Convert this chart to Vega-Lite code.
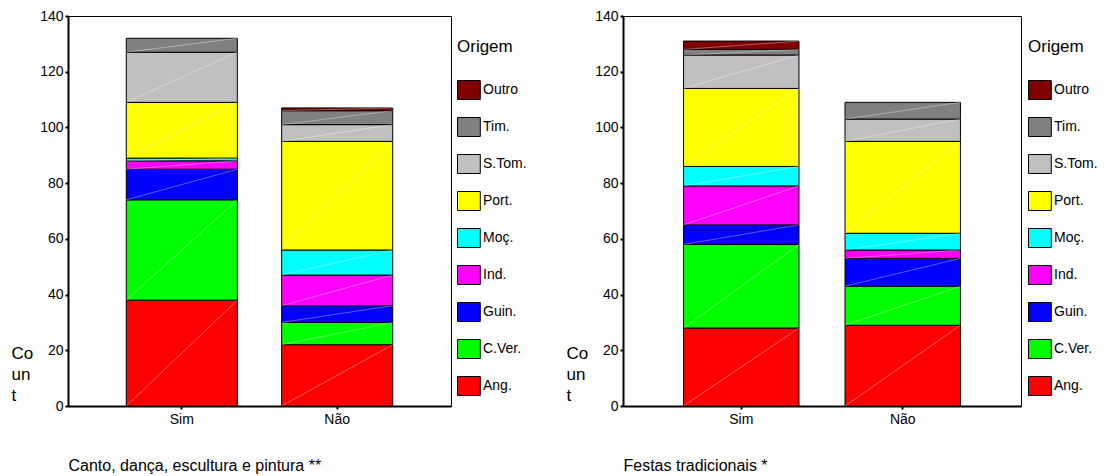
{
  "$schema": "https://vega.github.io/schema/vega-lite/v6.json",
  "padding": {"left": 10, "top": 8, "right": 0, "bottom": 0},
  "autosize": {"type": "pad"},
  "background": "white",
  "spacing": 37,
  "config": {
    "font": "Liberation Sans",
    "view": {"stroke": "black", "strokeWidth": 1},
    "axis": {"labelFont": "Liberation Sans", "labelFontSize": 14, "labelColor": "black", "domainColor": "black", "domainWidth": 2, "tickColor": "black", "tickSize": 3, "tickWidth": 2, "grid": false, "titleFont": "Liberation Sans", "titleFontWeight": "normal", "titleColor": "black"},
    "legend": {"orient": "none", "legendY": 23, "titleFontSize": 17, "titleFontWeight": "normal", "titleColor": "black", "titleFont": "Liberation Sans", "titlePadding": 24, "labelFont": "Liberation Sans", "labelFontSize": 14, "labelColor": "black", "labelOffset": 6, "symbolType": "M-1,-1L1.4,-1L1.4,1L-1,1Z", "symbolSize": 361, "symbolStrokeColor": "black", "symbolStrokeWidth": 1, "symbolOpacity": 1, "rowPadding": 13}
  },
  "datasets": {
    "ordem": [
      {"origem": "Ang.", "k": 1}, {"origem": "C.Ver.", "k": 2}, {"origem": "Guin.", "k": 3},
      {"origem": "Ind.", "k": 4}, {"origem": "Moç.", "k": 5}, {"origem": "Port.", "k": 6},
      {"origem": "S.Tom.", "k": 7}, {"origem": "Tim.", "k": 8}, {"origem": "Outro", "k": 9}
    ],
    "canto": [
      {"resp": "Sim", "origem": "Ang.", "n": 38}, {"resp": "Sim", "origem": "C.Ver.", "n": 36},
      {"resp": "Sim", "origem": "Guin.", "n": 11}, {"resp": "Sim", "origem": "Ind.", "n": 3},
      {"resp": "Sim", "origem": "Moç.", "n": 1}, {"resp": "Sim", "origem": "Port.", "n": 20},
      {"resp": "Sim", "origem": "S.Tom.", "n": 18}, {"resp": "Sim", "origem": "Tim.", "n": 5},
      {"resp": "Não", "origem": "Ang.", "n": 22}, {"resp": "Não", "origem": "C.Ver.", "n": 8},
      {"resp": "Não", "origem": "Guin.", "n": 6}, {"resp": "Não", "origem": "Ind.", "n": 11},
      {"resp": "Não", "origem": "Moç.", "n": 9}, {"resp": "Não", "origem": "Port.", "n": 39},
      {"resp": "Não", "origem": "S.Tom.", "n": 6}, {"resp": "Não", "origem": "Tim.", "n": 5},
      {"resp": "Não", "origem": "Outro", "n": 1}
    ],
    "festas": [
      {"resp": "Sim", "origem": "Ang.", "n": 28}, {"resp": "Sim", "origem": "C.Ver.", "n": 30},
      {"resp": "Sim", "origem": "Guin.", "n": 7}, {"resp": "Sim", "origem": "Ind.", "n": 14},
      {"resp": "Sim", "origem": "Moç.", "n": 7}, {"resp": "Sim", "origem": "Port.", "n": 28},
      {"resp": "Sim", "origem": "S.Tom.", "n": 12}, {"resp": "Sim", "origem": "Tim.", "n": 2},
      {"resp": "Sim", "origem": "Outro", "n": 3},
      {"resp": "Não", "origem": "Ang.", "n": 29}, {"resp": "Não", "origem": "C.Ver.", "n": 14},
      {"resp": "Não", "origem": "Guin.", "n": 10}, {"resp": "Não", "origem": "Ind.", "n": 3},
      {"resp": "Não", "origem": "Moç.", "n": 6}, {"resp": "Não", "origem": "Port.", "n": 33},
      {"resp": "Não", "origem": "S.Tom.", "n": 8}, {"resp": "Não", "origem": "Tim.", "n": 6}
    ]
  },
  "resolve": {"scale": {"color": "independent"}, "legend": {"color": "independent"}},
  "hconcat": [
    {
      "width": 383, "height": 390,
      "data": {"name": "canto"},
      "transform": [
        {"lookup": "origem", "from": {"data": {"name": "ordem"}, "key": "origem", "fields": ["k"]}},
        {"stack": "n", "groupby": ["resp"], "sort": [{"field": "k", "order": "ascending"}], "as": ["y0", "y1"]}
      ],
      "encoding": {
        "x": {"field": "resp", "type": "nominal", "sort": ["Sim", "Não"], "scale": {"paddingInner": 0.285, "paddingOuter": 0.375},
          "axis": {"title": "Canto, dança, escultura e pintura **", "labelAngle": 0, "labelPadding": 3, "titleFontSize": 16, "titleX": 0, "titleY": 64, "titleAlign": "left", "titleBaseline": "alphabetic"}}
      },
      "layer": [
        {
          "mark": {"type": "bar", "stroke": "black", "strokeWidth": 1},
          "encoding": {
            "y": {"field": "y1", "type": "quantitative", "scale": {"domain": [0, 140], "nice": false},
              "axis": {"values": [0, 20, 40, 60, 80, 100, 120, 140], "labelPadding": 2, "title": ["Co", "un", "t"], "titleFontSize": 17, "titleAngle": 0, "titleAlign": "left", "titleBaseline": "alphabetic", "titleX": -57, "titleY": 342, "titleLineHeight": 21}},
            "y2": {"field": "y0"},
            "color": {"field": "origem", "type": "nominal",
              "scale": {"domain": ["Outro", "Tim.", "S.Tom.", "Port.", "Moç.", "Ind.", "Guin.", "C.Ver.", "Ang."],
                "range": ["#800000", "#808080", "#C0C0C0", "#FFFF00", "#00FFFF", "#FF00FF", "#0000FF", "#00FF00", "#FF0000"]},
              "legend": {"title": "Origem", "legendX": 389}}
          }
        },
        {
          "mark": {"type": "rule", "color": "white", "strokeWidth": 0.6, "opacity": 0.6},
          "encoding": {
            "x": {"field": "resp", "type": "nominal", "sort": ["Sim", "Não"], "bandPosition": 0},
            "x2": {"field": "resp", "bandPosition": 1},
            "y": {"field": "y0", "type": "quantitative"},
            "y2": {"field": "y1"}
          }
        }
      ]
    },
    {
      "width": 398, "height": 390,
      "data": {"name": "festas"},
      "transform": [
        {"lookup": "origem", "from": {"data": {"name": "ordem"}, "key": "origem", "fields": ["k"]}},
        {"stack": "n", "groupby": ["resp"], "sort": [{"field": "k", "order": "ascending"}], "as": ["y0", "y1"]}
      ],
      "encoding": {
        "x": {"field": "resp", "type": "nominal", "sort": ["Sim", "Não"], "scale": {"paddingInner": 0.285, "paddingOuter": 0.375},
          "axis": {"title": "Festas tradicionais *", "labelAngle": 0, "labelPadding": 3, "titleFontSize": 16, "titleX": 0, "titleY": 64, "titleAlign": "left", "titleBaseline": "alphabetic"}}
      },
      "layer": [
        {
          "mark": {"type": "bar", "stroke": "black", "strokeWidth": 1},
          "encoding": {
            "y": {"field": "y1", "type": "quantitative", "scale": {"domain": [0, 140], "nice": false},
              "axis": {"values": [0, 20, 40, 60, 80, 100, 120, 140], "labelPadding": 2, "title": ["Co", "un", "t"], "titleFontSize": 17, "titleAngle": 0, "titleAlign": "left", "titleBaseline": "alphabetic", "titleX": -57, "titleY": 342, "titleLineHeight": 21}},
            "y2": {"field": "y0"},
            "color": {"field": "origem", "type": "nominal",
              "scale": {"domain": ["Outro", "Tim.", "S.Tom.", "Port.", "Moç.", "Ind.", "Guin.", "C.Ver.", "Ang."],
                "range": ["#800000", "#808080", "#C0C0C0", "#FFFF00", "#00FFFF", "#FF00FF", "#0000FF", "#00FF00", "#FF0000"]},
              "legend": {"title": "Origem", "legendX": 405}}
          }
        },
        {
          "mark": {"type": "rule", "color": "white", "strokeWidth": 0.6, "opacity": 0.6},
          "encoding": {
            "x": {"field": "resp", "type": "nominal", "sort": ["Sim", "Não"], "bandPosition": 0},
            "x2": {"field": "resp", "bandPosition": 1},
            "y": {"field": "y0", "type": "quantitative"},
            "y2": {"field": "y1"}
          }
        }
      ]
    }
  ]
}
